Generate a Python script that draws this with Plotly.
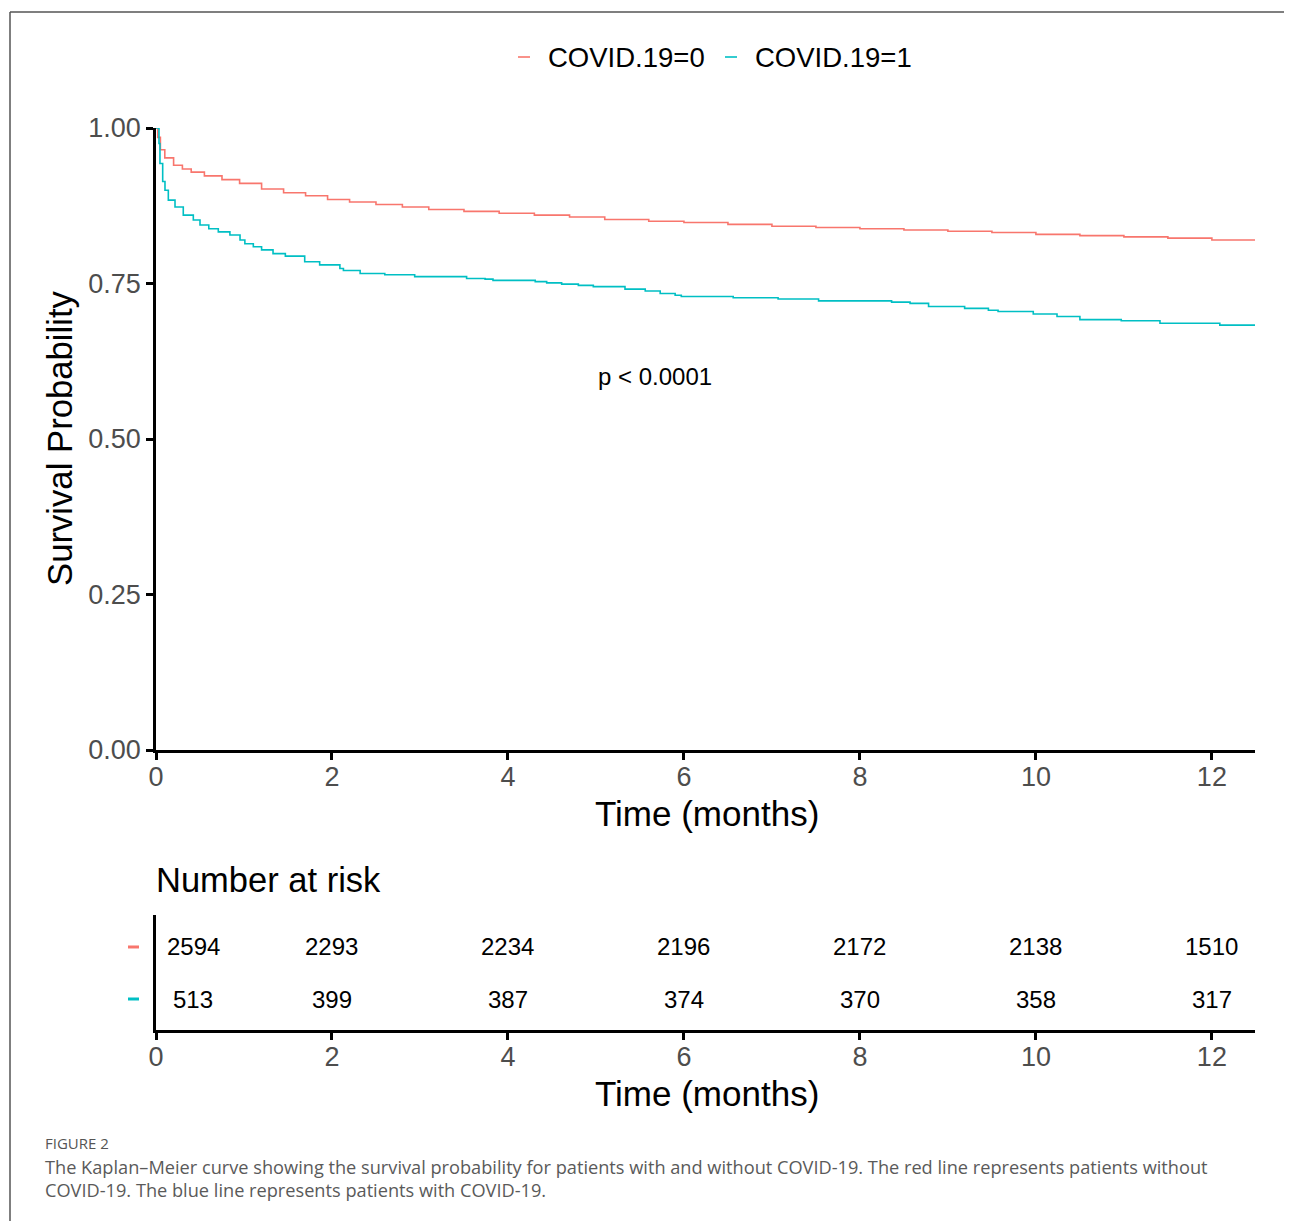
import plotly.graph_objects as go

W, H = 1292, 1221
OFF = 8  # page body margin offset
RED = "#F8766D"
CYAN = "#00BFC4"
FONT = "Liberation Sans, Arial, sans-serif"
TICKCOL = "#4D4D4D"

# ---------------- data ----------------
legend_labels = ["COVID.19=0", "COVID.19=1"]

time_c0 = [0, 0.02, 0.05, 0.1, 0.2, 0.3, 0.4, 0.55, 0.75, 0.95, 1.2, 1.45, 1.7, 1.95,
           2.2, 2.5, 2.8, 3.1, 3.5, 3.9, 4.3, 4.7, 5.1, 5.6, 6.0, 6.5, 7.0, 7.5, 8.0,
           8.5, 9.0, 9.5, 10.0, 10.5, 11.0, 11.5, 12.0, 12.49]
surv_c0 = [1.0, 0.985, 0.965, 0.952, 0.940, 0.934, 0.929, 0.923, 0.917, 0.911, 0.902,
           0.896, 0.891, 0.885, 0.881, 0.877, 0.873, 0.869, 0.866, 0.863, 0.860, 0.857,
           0.853, 0.850, 0.848, 0.845, 0.842, 0.840, 0.838, 0.836, 0.834, 0.832, 0.829,
           0.827, 0.825, 0.823, 0.820, 0.820]

time_c1 = [0, 0.034, 0.045, 0.076, 0.102, 0.14, 0.216, 0.31, 0.424, 0.5, 0.6, 0.708,
           0.84, 0.955, 1.01, 1.106, 1.20, 1.33, 1.47, 1.69, 1.86, 2.09, 2.13, 2.32,
           2.60, 2.94, 3.53, 3.74, 3.83, 4.31, 4.44, 4.61, 4.80, 4.97, 5.33, 5.56, 5.73,
           5.90, 5.97, 6.56, 7.07, 7.53, 8.36, 8.57, 8.78, 9.19, 9.46, 9.57, 9.97, 10.24,
           10.5, 10.97, 11.41, 12.09, 12.49]
surv_c1 = [1.0, 0.975, 0.943, 0.914, 0.900, 0.884, 0.873, 0.860, 0.852, 0.844, 0.838,
           0.833, 0.828, 0.820, 0.814, 0.809, 0.804, 0.798, 0.794, 0.785, 0.780, 0.774,
           0.771, 0.766, 0.764, 0.761, 0.758, 0.757, 0.755, 0.753, 0.751, 0.749, 0.747,
           0.745, 0.741, 0.738, 0.734, 0.731, 0.729, 0.727, 0.725, 0.722, 0.720, 0.718,
           0.713, 0.710, 0.707, 0.705, 0.701, 0.697, 0.692, 0.690, 0.686, 0.683, 0.683]

risk_times = [0, 2, 4, 6, 8, 10, 12]
risk_c0 = [2594, 2293, 2234, 2196, 2172, 2138, 1510]
risk_c1 = [513, 399, 387, 374, 370, 358, 317]

x_ticks = [0, 2, 4, 6, 8, 10, 12]
y_ticks = [0.0, 0.25, 0.50, 0.75, 1.00]
p_text = "p < 0.0001"
p_pos = (5.0, 0.60)

caption_head = "FIGURE 2"
caption_lines = [
    "The Kaplan\u2013Meier curve showing the survival probability for patients with and without COVID-19. The red line represents patients without",
    "COVID-19. The blue line represents patients with COVID-19.",
]


def px(x):
    return (x - OFF) / W


def py(y):
    return 1 - (y - OFF) / H


fig = go.Figure()
fig.add_trace(go.Scatter(x=time_c0, y=surv_c0, mode="lines", line=dict(color=RED, width=1.6, shape="hv"),
                         name=legend_labels[0], showlegend=False, xaxis="x", yaxis="y"))
fig.add_trace(go.Scatter(x=time_c1, y=surv_c1, mode="lines", line=dict(color=CYAN, width=1.6, shape="hv"),
                         name=legend_labels[1], showlegend=False, xaxis="x", yaxis="y"))

x_dom = [px(156), px(1255)]
axis_common = dict(showgrid=False, zeroline=False, showline=True, linecolor="black", linewidth=2.5,
                   ticks="outside", ticklen=7, tickwidth=2.5, tickcolor="black", automargin=False,
                   tickfont=dict(family=FONT, size=27, color=TICKCOL))

fig.update_layout(
    template="none",
    width=W, height=H,
    autosize=False,
    margin=dict(l=0, r=0, t=0, b=0, pad=0, autoexpand=False),
    paper_bgcolor="white", plot_bgcolor="white",
    showlegend=False,
    xaxis=dict(domain=x_dom, range=[0, 12.49], tickvals=x_ticks, anchor="y", ticklabelstandoff=-6,
               **axis_common),
    yaxis=dict(domain=[py(750), py(128)], range=[0, 1.0], tickvals=y_ticks, tickformat=".2f",
               anchor="x", **axis_common),
    xaxis2=dict(domain=x_dom, range=[0, 12.49], tickvals=x_ticks, anchor="y2", ticklabelstandoff=-6,
                **axis_common),
    yaxis2=dict(domain=[py(1030), py(915)], range=[-0.596, 1.615], anchor="x2", automargin=False,
                showgrid=False, zeroline=False, showline=True, linecolor="black", linewidth=2.5,
                showticklabels=False, ticks=""),
)

ann = []
# risk table numbers
for i, t in enumerate(risk_times):
    shift = 37 if i == 0 else 0
    ann.append(dict(x=t, y=1, xref="x2", yref="y2", text=str(risk_c0[i]), showarrow=False,
                    xanchor="center", yanchor="middle", xshift=shift,
                    font=dict(family=FONT, size=24, color="black")))
    ann.append(dict(x=t, y=0, xref="x2", yref="y2", text=str(risk_c1[i]), showarrow=False,
                    xanchor="center", yanchor="middle", xshift=shift,
                    font=dict(family=FONT, size=24, color="black")))

# p-value
ann.append(dict(x=p_pos[0], y=p_pos[1], xref="x", yref="y", text=p_text, showarrow=False,
                xanchor="left", yanchor="middle", font=dict(family=FONT, size=24, color="black")))

# axis titles
ann.append(dict(x=px(707), y=py(813), xref="paper", yref="paper", text="Time (months)", showarrow=False,
                xanchor="center", yanchor="middle", font=dict(family=FONT, size=35, color="black")))
ann.append(dict(x=px(707), y=py(1093), xref="paper", yref="paper", text="Time (months)", showarrow=False,
                xanchor="center", yanchor="middle", font=dict(family=FONT, size=35, color="black")))
ann.append(dict(x=px(60), y=py(438), xref="paper", yref="paper", text="Survival Probability", showarrow=False,
                textangle=-90, xanchor="center", yanchor="middle", font=dict(family=FONT, size=34.7, color="black")))
ann.append(dict(x=px(154), y=py(880), xref="paper", yref="paper", text="Number at risk", showarrow=False,
                xanchor="left", yanchor="middle", font=dict(family=FONT, size=34.5, color="black")))

# legend texts
ann.append(dict(x=px(546), y=py(57), xref="paper", yref="paper", text=legend_labels[0], showarrow=False,
                xanchor="left", yanchor="middle", font=dict(family=FONT, size=27.5, color="black")))
ann.append(dict(x=px(753), y=py(57), xref="paper", yref="paper", text=legend_labels[1], showarrow=False,
                xanchor="left", yanchor="middle", font=dict(family=FONT, size=27.5, color="black")))

# caption
ann.append(dict(x=px(43), y=py(1143), xref="paper", yref="paper", text=caption_head, showarrow=False,
                xanchor="left", yanchor="middle", font=dict(family="Open Sans, sans-serif", size=15, color="#555555")))
for j, line in enumerate(caption_lines):
    ann.append(dict(x=px(43), y=py(1167 + 23 * j), xref="paper", yref="paper", text=line, showarrow=False,
                    xanchor="left", yanchor="middle",
                    font=dict(family="Open Sans, sans-serif", size=18.2, color="#5a5a5a")))

fig.update_layout(annotations=ann)

shapes = []
# frame
shapes.append(dict(type="line", xref="paper", yref="paper", x0=px(10), x1=px(10), y0=py(1240), y1=py(12),
                   line=dict(color="#555555", width=1.5)))
shapes.append(dict(type="line", xref="paper", yref="paper", x0=px(10), x1=1, y0=py(12), y1=py(12),
                   line=dict(color="#555555", width=1.5)))
# legend keys
shapes.append(dict(type="line", xref="paper", yref="paper", x0=px(518), x1=px(530), y0=py(57), y1=py(57),
                   line=dict(color=RED, width=1.6)))
shapes.append(dict(type="line", xref="paper", yref="paper", x0=px(725), x1=px(737), y0=py(57), y1=py(57),
                   line=dict(color=CYAN, width=1.6)))
# risk table row keys
shapes.append(dict(type="line", xref="paper", yref="y2", x0=px(128), x1=px(139), y0=1, y1=1,
                   line=dict(color=RED, width=3)))
shapes.append(dict(type="line", xref="paper", yref="y2", x0=px(128), x1=px(139), y0=0, y1=0,
                   line=dict(color=CYAN, width=3)))
fig.update_layout(shapes=shapes)

fig.write_html("out.html", config={"responsive": False})
